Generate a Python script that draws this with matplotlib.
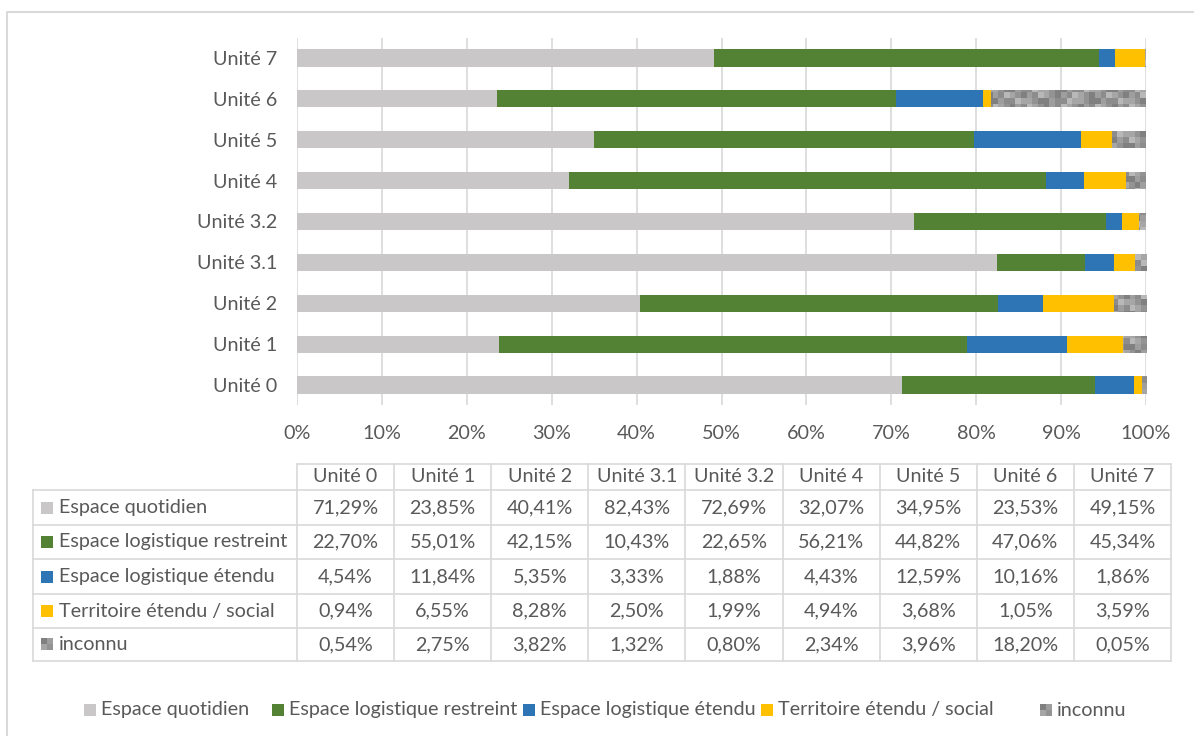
import numpy as np
import matplotlib.pyplot as plt
from matplotlib.patches import Rectangle

plt.rcParams['font.family'] = ['Lato', 'DejaVu Sans']

units = ['Unité 0', 'Unité 1', 'Unité 2', 'Unité 3.1', 'Unité 3.2',
         'Unité 4', 'Unité 5', 'Unité 6', 'Unité 7']
series = ['Espace quotidien', 'Espace logistique restreint',
          'Espace logistique étendu', 'Territoire étendu / social', 'inconnu']
quotidien = [71.29, 23.85, 40.41, 82.43, 72.69, 32.07, 34.95, 23.53, 49.15]
restreint = [22.70, 55.01, 42.15, 10.43, 22.65, 56.21, 44.82, 47.06, 45.34]
etendu = [4.54, 11.84, 5.35, 3.33, 1.88, 4.43, 12.59, 10.16, 1.86]
territoire = [0.94, 6.55, 8.28, 2.50, 1.99, 4.94, 3.68, 1.05, 3.59]
inconnu = [0.54, 2.75, 3.82, 1.32, 0.80, 2.34, 3.96, 18.20, 0.05]
values = [quotidien, restreint, etendu, territoire, inconnu]
colors = ['#c9c7c8', '#548235', '#2e75b6', '#ffc000', '#8c8c8c']
txt = '#595959'
grid = '#d9d9d9'
fs = 14.2

W, H = 1194, 736
fig = plt.figure(figsize=(W / 100, H / 100), dpi=100)

# overlay in pixel coordinates for frame, table and legend
ov = fig.add_axes([0, 0, 1, 1])
ov.set_xlim(0, W)
ov.set_ylim(H, 0)
ov.axis('off')
ov.plot([7, 7, W + 5], [H + 5, 12, 12], color=grid, lw=1.5)

# main chart
ax = fig.add_axes([297 / W, 1 - 405.4 / H, 849 / W, 367.8 / H])
y = np.arange(len(units))
left = np.zeros(len(units))
bh = 0.42

# checker texture for "inconnu"
gl = np.array([0.50, 0.58, 0.65, 0.72, 0.55, 0.62])
ii, jj = np.meshgrid(np.arange(150), np.arange(66))
tex = gl[(ii * 5 + jj * 2 + (ii // 3) * (jj % 2)) % len(gl)]

for k, vals in enumerate(values):
    bars = ax.barh(y, vals, left=left, height=bh, color=colors[k], zorder=3)
    if k == 4:
        for b in bars:
            b.set_facecolor('none')
            im = ax.imshow(tex, cmap='gray', vmin=0, vmax=1, aspect='auto',
                           extent=[0, 100, -0.5, 8.5], zorder=3,
                           interpolation='nearest')
            im.set_clip_path(b)
    left += np.array(vals)

ax.set_xlim(0, 100)
ax.set_ylim(-0.5, 8.5)
ax.set_xticks(np.arange(0, 101, 10))
ax.set_xticklabels([f'{v}%' for v in range(0, 101, 10)])
ax.set_yticks(y)
ax.set_yticklabels(units)
ax.grid(axis='x', color=grid, lw=1.2, zorder=0)
ax.tick_params(length=0, colors=txt, labelsize=fs)
ax.tick_params(axis='x', pad=14)
ax.tick_params(axis='y', pad=14)
for s in ax.spines.values():
    s.set_visible(False)
ax.set_facecolor('none')

# data table
cw = (1171 - 297) / len(units)
col_x = [297 + cw * i for i in range(len(units) + 1)]
row_y = [464, 490, 525, 559, 594, 628, 661]
lw = 1.2
for yy in row_y[1:]:
    ov.plot([33, 1171], [yy, yy], color=grid, lw=lw)
ov.plot([297, 1171], [row_y[0], row_y[0]], color=grid, lw=lw)
ov.plot([33, 33], [row_y[1], row_y[-1]], color=grid, lw=lw)
for xx in col_x:
    ov.plot([xx, xx], [row_y[0], row_y[-1]], color=grid, lw=lw)
for i, u in enumerate(units):
    ov.text((col_x[i] + col_x[i + 1]) / 2, (row_y[0] + row_y[1]) / 2, u,
            ha='center', va='center', color=txt, fontsize=fs)
for r, (name, vals) in enumerate(zip(series, values)):
    cy = (row_y[r + 1] + row_y[r + 2]) / 2
    if r == 4:
        ov.imshow(tex[:2, :2], cmap='gray', vmin=0, vmax=1,
                  extent=[41, 53, cy + 6, cy - 6], interpolation='nearest')
    else:
        ov.add_patch(Rectangle((41, cy - 6), 12, 12, color=colors[r], lw=0))
    ov.text(59, cy, name, ha='left', va='center', color=txt, fontsize=fs)
    for i, v in enumerate(vals):
        ov.text((col_x[i] + col_x[i + 1]) / 2, cy,
                f'{v:.2f}%'.replace('.', ','),
                ha='center', va='center', color=txt, fontsize=fs)

# legend
leg_x = [84, 272, 523, 761, 1040]
for k, name in enumerate(series):
    cy = 710
    if k == 4:
        ov.imshow(tex[:2, :2], cmap='gray', vmin=0, vmax=1,
                  extent=[leg_x[k], leg_x[k] + 12, cy + 6, cy - 6],
                  interpolation='nearest')
    else:
        ov.add_patch(Rectangle((leg_x[k], cy - 6), 12, 12, color=colors[k], lw=0))
    ov.text(leg_x[k] + 17, cy, name, ha='left', va='center', color=txt,
            fontsize=fs)
ov.set_xlim(0, W)
ov.set_ylim(H, 0)
ov.set_aspect('auto')

fig.savefig('out.png', dpi=100)
